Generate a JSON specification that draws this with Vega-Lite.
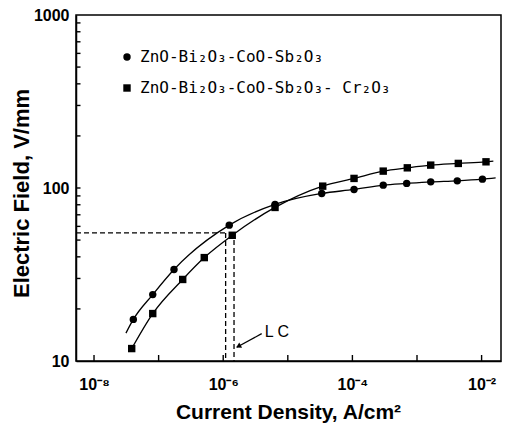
{
  "$schema": "https://vega.github.io/schema/vega-lite/v6.json",
  "width": 425,
  "height": 346,
  "autosize": {"type": "none"},
  "padding": {"left": 76, "top": 15, "right": 14, "bottom": 65},
  "background": "white",
  "config": {
    "view": {"stroke": "black", "strokeWidth": 1.5},
    "font": "Liberation Sans"
  },
  "datasets": {
    "curve": [
      {"series": "ZnO-Bi₂O₃-CoO-Sb₂O₃", "j": 3.12e-8, "e": 14.5},
      {"series": "ZnO-Bi₂O₃-CoO-Sb₂O₃", "j": 4.06e-8, "e": 17.4},
      {"series": "ZnO-Bi₂O₃-CoO-Sb₂O₃", "j": 8.11e-8, "e": 24.2},
      {"series": "ZnO-Bi₂O₃-CoO-Sb₂O₃", "j": 1.73e-7, "e": 33.8},
      {"series": "ZnO-Bi₂O₃-CoO-Sb₂O₃", "j": 1.24e-6, "e": 61.0},
      {"series": "ZnO-Bi₂O₃-CoO-Sb₂O₃", "j": 6.34e-6, "e": 80.4},
      {"series": "ZnO-Bi₂O₃-CoO-Sb₂O₃", "j": 3.35e-5, "e": 93.0},
      {"series": "ZnO-Bi₂O₃-CoO-Sb₂O₃", "j": 1.06e-4, "e": 98.1},
      {"series": "ZnO-Bi₂O₃-CoO-Sb₂O₃", "j": 3.0e-4, "e": 103.9},
      {"series": "ZnO-Bi₂O₃-CoO-Sb₂O₃", "j": 6.92e-4, "e": 106.3},
      {"series": "ZnO-Bi₂O₃-CoO-Sb₂O₃", "j": 1.63e-3, "e": 108.5},
      {"series": "ZnO-Bi₂O₃-CoO-Sb₂O₃", "j": 4.2e-3, "e": 110.0},
      {"series": "ZnO-Bi₂O₃-CoO-Sb₂O₃", "j": 1.03e-2, "e": 112.5},
      {"series": "ZnO-Bi₂O₃-CoO-Sb₂O₃", "j": 1.65e-2, "e": 114.5},
      {"series": "ZnO-Bi₂O₃-CoO-Sb₂O₃- Cr₂O₃", "j": 3.83e-8, "e": 11.8},
      {"series": "ZnO-Bi₂O₃-CoO-Sb₂O₃- Cr₂O₃", "j": 8.11e-8, "e": 18.8},
      {"series": "ZnO-Bi₂O₃-CoO-Sb₂O₃- Cr₂O₃", "j": 2.36e-7, "e": 29.6},
      {"series": "ZnO-Bi₂O₃-CoO-Sb₂O₃- Cr₂O₃", "j": 5.09e-7, "e": 39.6},
      {"series": "ZnO-Bi₂O₃-CoO-Sb₂O₃- Cr₂O₃", "j": 1.38e-6, "e": 53.3},
      {"series": "ZnO-Bi₂O₃-CoO-Sb₂O₃- Cr₂O₃", "j": 6.34e-6, "e": 77.2},
      {"series": "ZnO-Bi₂O₃-CoO-Sb₂O₃- Cr₂O₃", "j": 3.47e-5, "e": 102.5},
      {"series": "ZnO-Bi₂O₃-CoO-Sb₂O₃- Cr₂O₃", "j": 1.06e-4, "e": 113.6},
      {"series": "ZnO-Bi₂O₃-CoO-Sb₂O₃- Cr₂O₃", "j": 3.0e-4, "e": 125.2},
      {"series": "ZnO-Bi₂O₃-CoO-Sb₂O₃- Cr₂O₃", "j": 7.08e-4, "e": 130.8},
      {"series": "ZnO-Bi₂O₃-CoO-Sb₂O₃- Cr₂O₃", "j": 1.63e-3, "e": 135.6},
      {"series": "ZnO-Bi₂O₃-CoO-Sb₂O₃- Cr₂O₃", "j": 4.36e-3, "e": 138.7},
      {"series": "ZnO-Bi₂O₃-CoO-Sb₂O₃- Cr₂O₃", "j": 1.17e-2, "e": 141.7},
      {"series": "ZnO-Bi₂O₃-CoO-Sb₂O₃- Cr₂O₃", "j": 1.52e-2, "e": 142.9}
    ],
    "pts": [
      {"series": "ZnO-Bi₂O₃-CoO-Sb₂O₃", "j": 4.06e-8, "e": 17.4},
      {"series": "ZnO-Bi₂O₃-CoO-Sb₂O₃", "j": 8.11e-8, "e": 24.2},
      {"series": "ZnO-Bi₂O₃-CoO-Sb₂O₃", "j": 1.73e-7, "e": 33.8},
      {"series": "ZnO-Bi₂O₃-CoO-Sb₂O₃", "j": 1.24e-6, "e": 61.0},
      {"series": "ZnO-Bi₂O₃-CoO-Sb₂O₃", "j": 6.34e-6, "e": 80.4},
      {"series": "ZnO-Bi₂O₃-CoO-Sb₂O₃", "j": 3.35e-5, "e": 93.0},
      {"series": "ZnO-Bi₂O₃-CoO-Sb₂O₃", "j": 1.06e-4, "e": 98.1},
      {"series": "ZnO-Bi₂O₃-CoO-Sb₂O₃", "j": 3.0e-4, "e": 103.9},
      {"series": "ZnO-Bi₂O₃-CoO-Sb₂O₃", "j": 6.92e-4, "e": 106.3},
      {"series": "ZnO-Bi₂O₃-CoO-Sb₂O₃", "j": 1.63e-3, "e": 108.5},
      {"series": "ZnO-Bi₂O₃-CoO-Sb₂O₃", "j": 4.2e-3, "e": 110.0},
      {"series": "ZnO-Bi₂O₃-CoO-Sb₂O₃", "j": 1.03e-2, "e": 112.5},
      {"series": "ZnO-Bi₂O₃-CoO-Sb₂O₃- Cr₂O₃", "j": 3.83e-8, "e": 11.8},
      {"series": "ZnO-Bi₂O₃-CoO-Sb₂O₃- Cr₂O₃", "j": 8.11e-8, "e": 18.8},
      {"series": "ZnO-Bi₂O₃-CoO-Sb₂O₃- Cr₂O₃", "j": 2.36e-7, "e": 29.6},
      {"series": "ZnO-Bi₂O₃-CoO-Sb₂O₃- Cr₂O₃", "j": 5.09e-7, "e": 39.6},
      {"series": "ZnO-Bi₂O₃-CoO-Sb₂O₃- Cr₂O₃", "j": 1.38e-6, "e": 53.3},
      {"series": "ZnO-Bi₂O₃-CoO-Sb₂O₃- Cr₂O₃", "j": 6.34e-6, "e": 77.2},
      {"series": "ZnO-Bi₂O₃-CoO-Sb₂O₃- Cr₂O₃", "j": 3.47e-5, "e": 102.5},
      {"series": "ZnO-Bi₂O₃-CoO-Sb₂O₃- Cr₂O₃", "j": 1.06e-4, "e": 113.6},
      {"series": "ZnO-Bi₂O₃-CoO-Sb₂O₃- Cr₂O₃", "j": 3.0e-4, "e": 125.2},
      {"series": "ZnO-Bi₂O₃-CoO-Sb₂O₃- Cr₂O₃", "j": 7.08e-4, "e": 130.8},
      {"series": "ZnO-Bi₂O₃-CoO-Sb₂O₃- Cr₂O₃", "j": 1.63e-3, "e": 135.6},
      {"series": "ZnO-Bi₂O₃-CoO-Sb₂O₃- Cr₂O₃", "j": 4.36e-3, "e": 138.7},
      {"series": "ZnO-Bi₂O₃-CoO-Sb₂O₃- Cr₂O₃", "j": 1.17e-2, "e": 141.7}
    ],
    "xticks": [
      {"j": 1e-8}, {"j": 1e-7}, {"j": 1e-6}, {"j": 1e-5}, {"j": 1e-4}, {"j": 1e-3}, {"j": 1e-2}
    ],
    "yticks": [
      {"e": 20}, {"e": 30}, {"e": 40}, {"e": 50}, {"e": 60}, {"e": 70}, {"e": 80}, {"e": 90}, {"e": 100},
      {"e": 200}, {"e": 300}, {"e": 400}, {"e": 500}, {"e": 600}, {"e": 700}, {"e": 800}, {"e": 900}
    ],
    "dash": [
      {"j": 5.26e-9, "e": 55, "j2": 1.09e-6, "e2": 55},
      {"j": 1.09e-6, "e": 55, "j2": 1.09e-6, "e2": 10},
      {"j": 1.47e-6, "e": 50, "j2": 1.47e-6, "e2": 10}
    ],
    "arrow": [
      {"j": 3.94e-6, "e": 14.4, "j2": 1.62e-6, "e2": 12.0}
    ],
    "head": [
      {"j": 1.72e-6, "e": 12.15}
    ],
    "lbl": [
      {"j": 6.8e-6, "e": 14.7, "t": "L C"}
    ]
  },
  "layer": [
    {
      "data": {"name": "curve"},
      "mark": {"type": "line", "interpolate": "monotone", "color": "black", "strokeWidth": 1.3},
      "encoding": {
        "x": {
          "field": "j", "type": "quantitative",
          "scale": {"type": "log", "domain": [5.26e-9, 0.01997], "nice": false},
          "axis": {
            "values": [1e-8, 1e-7, 1e-6, 1e-5, 1e-4, 1e-3, 1e-2],
            "labelExpr": "round(log(datum.value)/LN10) == -8 ? '10⁻⁸' : round(log(datum.value)/LN10) == -6 ? '10⁻⁶' : round(log(datum.value)/LN10) == -4 ? '10⁻⁴' : round(log(datum.value)/LN10) == -2 ? '10⁻²' : ''",
            "title": "Current Density, A/cm²",
            "grid": false, "ticks": false,
            "domainColor": "black", "domainWidth": 1.5,
            "labelFont": "Liberation Sans", "labelFontSize": 16, "labelFontWeight": "bold", "labelColor": "black",
            "labelPadding": 15, "labelFlush": false,
            "titleFont": "Liberation Sans", "titleFontSize": 21, "titleFontWeight": "bold", "titleColor": "black",
            "titleX": 212, "titleY": 51, "titleBaseline": "middle", "titleAlign": "center"
          }
        },
        "y": {
          "field": "e", "type": "quantitative",
          "scale": {"type": "log", "domain": [10, 1000], "nice": false},
          "axis": {
            "values": [10, 100, 1000],
            "labelExpr": "datum.value == 10 ? '10' : datum.value == 100 ? '100' : '1000'",
            "title": "Electric Field, V/mm",
            "grid": false, "ticks": false,
            "domainColor": "black", "domainWidth": 1.5,
            "labelFont": "Liberation Sans", "labelFontSize": 16, "labelFontWeight": "bold", "labelColor": "black",
            "labelPadding": 7, "labelFlush": false,
            "titleFont": "Liberation Sans", "titleFontSize": 22, "titleFontWeight": "bold", "titleColor": "black",
            "titleX": -55, "titleY": 178, "titleBaseline": "middle", "titleAlign": "center", "titleAngle": -90
          }
        },
        "detail": {"field": "series", "type": "nominal"},
        "order": {"field": "j", "type": "quantitative"}
      }
    },
    {
      "data": {"name": "xticks"},
      "mark": {"type": "tick", "orient": "vertical", "size": 12, "thickness": 1.4, "color": "black", "opacity": 1, "clip": true},
      "encoding": {
        "x": {"field": "j", "type": "quantitative"},
        "y": {"datum": 10, "type": "quantitative"}
      }
    },
    {
      "data": {"name": "yticks"},
      "mark": {"type": "tick", "orient": "horizontal", "size": 9, "thickness": 1.4, "color": "black", "opacity": 1, "clip": true},
      "encoding": {
        "x": {"datum": 5.26e-9, "type": "quantitative"},
        "y": {"field": "e", "type": "quantitative"}
      }
    },
    {
      "data": {"name": "pts"},
      "mark": {"type": "point", "filled": true, "color": "black", "opacity": 1, "size": 55},
      "encoding": {
        "x": {"field": "j", "type": "quantitative"},
        "y": {"field": "e", "type": "quantitative"},
        "shape": {
          "field": "series", "type": "nominal",
          "scale": {"domain": ["ZnO-Bi₂O₃-CoO-Sb₂O₃", "ZnO-Bi₂O₃-CoO-Sb₂O₃- Cr₂O₃"], "range": ["circle", "square"]},
          "legend": {
            "title": null, "orient": "none", "legendX": 43, "legendY": 34,
            "labelFont": "DejaVu Sans Mono", "labelFontSize": 16, "labelColor": "black", "labelLimit": 0,
            "labelOffset": 5, "rowPadding": 15,
            "symbolFillColor": "black", "symbolStrokeColor": "black", "symbolSize": 55, "symbolStrokeWidth": 0, "symbolOpacity": 1
          }
        }
      }
    },
    {
      "data": {"name": "dash"},
      "mark": {"type": "rule", "color": "black", "strokeWidth": 1.3, "strokeDash": [5, 3]},
      "encoding": {
        "x": {"field": "j", "type": "quantitative"},
        "y": {"field": "e", "type": "quantitative"},
        "x2": {"field": "j2"},
        "y2": {"field": "e2"}
      }
    },
    {
      "data": {"name": "arrow"},
      "mark": {"type": "rule", "color": "black", "strokeWidth": 1.2},
      "encoding": {
        "x": {"field": "j", "type": "quantitative"},
        "y": {"field": "e", "type": "quantitative"},
        "x2": {"field": "j2"},
        "y2": {"field": "e2"}
      }
    },
    {
      "data": {"name": "head"},
      "mark": {"type": "point", "shape": "triangle-left", "filled": true, "color": "black", "opacity": 1, "size": 35, "angle": 331},
      "encoding": {
        "x": {"field": "j", "type": "quantitative"},
        "y": {"field": "e", "type": "quantitative"}
      }
    },
    {
      "data": {"name": "lbl"},
      "mark": {"type": "text", "font": "Liberation Sans", "fontSize": 16, "color": "black", "align": "center", "baseline": "middle"},
      "encoding": {
        "x": {"field": "j", "type": "quantitative"},
        "y": {"field": "e", "type": "quantitative"},
        "text": {"field": "t"}
      }
    }
  ]
}
